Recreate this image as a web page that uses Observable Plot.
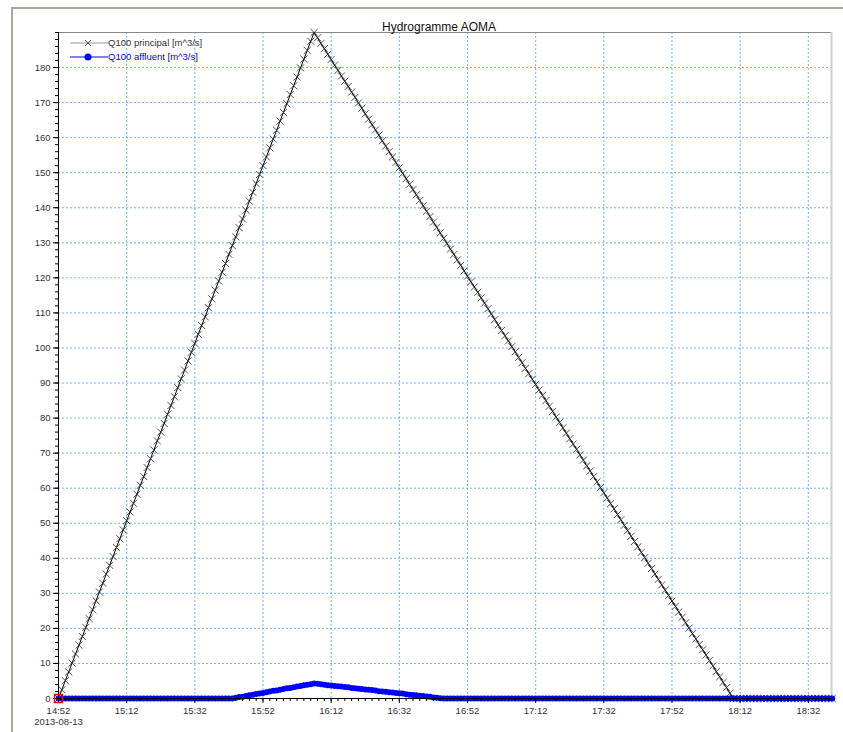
<!DOCTYPE html>
<html>
<head>
<meta charset="utf-8">
<script src="https://cdn.jsdelivr.net/npm/d3@7"></script>
<script src="https://cdn.jsdelivr.net/npm/@observablehq/plot@0.6"></script>
<style>
  body { margin: 0; background: #fff; font-family: "Liberation Sans", Arial, sans-serif; }
  #wrap { position: relative; width: 843px; height: 732px; overflow: hidden; }
  #win { position: absolute; left: 11px; top: 7px; width: 900px; height: 800px;
         border-top: 2px solid #aca899; border-left: 2px solid #aca899; pointer-events: none; }
</style>
</head>
<body>
<div id="wrap"><div id="chart"></div><div id="win"></div></div>
<script>
// ---------------- data ----------------
const title = "Hydrogramme AOMA";
const dateLabel = "2013-08-13";
const startTime = "2013-08-13 14:52";
const stepMinutes = 1;
const endTime = "2013-08-13 18:38:48";
const seriesNames = ["Q100 principal [m^3/s]", "Q100 affluent [m^3/s]"];

const principal = [
  0, 2.5, 5.1, 7.6, 10.1, 12.7, 15.2, 17.7, 20.3, 22.8,
  25.3, 27.9, 30.4, 32.9, 35.5, 38.0, 40.5, 43.1, 45.6, 48.1,
  50.7, 53.2, 55.7, 58.3, 60.8, 63.3, 65.9, 68.4, 70.9, 73.5,
  76.0, 78.5, 81.1, 83.6, 86.1, 88.7, 91.2, 93.7, 96.3, 98.8,
  101.3, 103.9, 106.4, 108.9, 111.5, 114.0, 116.5, 119.1, 121.6, 124.1,
  126.7, 129.2, 131.7, 134.3, 136.8, 139.3, 141.9, 144.4, 146.9, 149.5,
  152.0, 154.5, 157.1, 159.6, 162.1, 164.7, 167.2, 169.7, 172.3, 174.8,
  177.3, 179.9, 182.4, 184.9, 187.5, 190.0,
  188.5, 186.9, 185.4, 183.8, 182.3, 180.7, 179.2, 177.6, 176.1, 174.6,
  173.0, 171.5, 169.9, 168.4, 166.8, 165.3, 163.7, 162.2, 160.7, 159.1,
  157.6, 156.0, 154.5, 152.9, 151.4, 149.8, 148.3, 146.7, 145.2, 143.7,
  142.1, 140.6, 139.0, 137.5, 135.9, 134.4, 132.8, 131.3, 129.8, 128.2,
  126.7, 125.1, 123.6, 122.0, 120.5, 118.9, 117.4, 115.9, 114.3, 112.8,
  111.2, 109.7, 108.1, 106.6, 105.0, 103.5, 102.0, 100.4, 98.9, 97.3,
  95.8, 94.2, 92.7, 91.1, 89.6, 88.0, 86.5, 85.0, 83.4, 81.9,
  80.3, 78.8, 77.2, 75.7, 74.1, 72.6, 71.1, 69.5, 68.0, 66.4,
  64.9, 63.3, 61.8, 60.2, 58.7, 57.2, 55.6, 54.1, 52.5, 51.0,
  49.4, 47.9, 46.3, 44.8, 43.3, 41.7, 40.2, 38.6, 37.1, 35.5,
  34.0, 32.4, 30.9, 29.4, 27.8, 26.3, 24.7, 23.2, 21.6, 20.1,
  18.5, 17.0, 15.4, 13.9, 12.4, 10.8, 9.3, 7.7, 6.2, 4.6,
  3.1, 1.5, 0,
  0, 0, 0, 0, 0, 0, 0, 0, 0, 0,
  0, 0, 0, 0, 0, 0, 0, 0, 0, 0,
  0, 0, 0, 0, 0, 0, 0, 0, 0
];

const affluent = [
  0, 0, 0, 0, 0, 0, 0, 0, 0, 0,
  0, 0, 0, 0, 0, 0, 0, 0, 0, 0,
  0, 0, 0, 0, 0, 0, 0, 0, 0, 0,
  0, 0, 0, 0, 0, 0, 0, 0, 0, 0,
  0, 0, 0, 0, 0, 0, 0, 0, 0, 0,
  0, 0,
  0.2, 0.4, 0.5, 0.7, 0.9, 1.1, 1.3, 1.4, 1.6, 1.8,
  2.0, 2.2, 2.3, 2.5, 2.7, 2.9, 3.0, 3.2, 3.4, 3.6,
  3.8, 3.9, 4.1, 4.3,
  4.2, 4.1, 3.9, 3.8, 3.7, 3.6, 3.5, 3.4, 3.3, 3.2,
  3.0, 2.9, 2.8, 2.7, 2.6, 2.5, 2.4, 2.3, 2.1, 2.0,
  1.9, 1.8, 1.7, 1.6, 1.5, 1.4, 1.2, 1.1, 1.0, 0.9,
  0.8, 0.7, 0.6, 0.5, 0.3, 0.2, 0.1, 0.0,
  0, 0, 0, 0, 0, 0, 0, 0, 0, 0,
  0, 0, 0, 0, 0, 0, 0, 0, 0, 0,
  0, 0, 0, 0, 0, 0, 0, 0, 0, 0,
  0, 0, 0, 0, 0, 0, 0, 0, 0, 0,
  0, 0, 0, 0, 0, 0, 0, 0, 0, 0,
  0, 0, 0, 0, 0, 0, 0, 0, 0, 0,
  0, 0, 0, 0, 0, 0, 0, 0, 0, 0,
  0, 0, 0, 0, 0, 0, 0, 0, 0, 0,
  0, 0, 0, 0, 0, 0, 0, 0, 0, 0,
  0, 0, 0, 0, 0, 0, 0, 0, 0, 0,
  0, 0, 0, 0, 0, 0, 0, 0, 0, 0,
  0, 0, 0, 0
];

const xTickLabels = ["14:52", "15:12", "15:32", "15:52", "16:12", "16:32",
                     "16:52", "17:12", "17:32", "17:52", "18:12", "18:32"];
const yTicks = [0, 10, 20, 30, 40, 50, 60, 70, 80, 90, 100, 110, 120, 130, 140, 150, 160, 170, 180];
const yMax = 190;

// ---------------- build ----------------
const parseMin = d3.timeParse("%Y-%m-%d %H:%M");
const parseSec = d3.timeParse("%Y-%m-%d %H:%M:%S");
const t0 = parseMin(startTime);
const tEnd = parseSec(endTime);
const day = startTime.slice(0, 10);
const xTicks = xTickLabels.map(s => parseMin(day + " " + s));
const xMinor = d3.timeMinute.range(t0, tEnd, 2);
const yMinor = d3.range(0, yMax + 1, 2);
const fmt = d3.timeFormat("%H:%M");

const rows = principal.map((p, i) => ({
  t: d3.timeMinute.offset(t0, i * stepMinutes),
  p,
  a: affluent[i]
}));

const gridColor = "#3d9bff";
const textColor = "#333";

const plot = Plot.plot({
  width: 843,
  height: 732,
  marginLeft: 58,
  marginRight: 12,
  marginTop: 32,
  marginBottom: 34,
  style: { fontFamily: "Liberation Sans, Arial, sans-serif", fontSize: "9.5px", color: textColor, background: "transparent" },
  x: { type: "time", domain: [t0, tEnd] },
  y: { domain: [0, yMax] },
  marks: [
    Plot.gridX(xTicks, { stroke: gridColor, strokeOpacity: 0.75, strokeDasharray: "2,2", strokeWidth: 1 }),
    Plot.gridY(yTicks, { stroke: gridColor, strokeOpacity: 0.75, strokeDasharray: "2,2", strokeWidth: 1 }),
    Plot.ruleY([yMax], { stroke: "#888" }),
    Plot.ruleX([tEnd], { stroke: "#cfcfcf", strokeWidth: 2 }),
    Plot.lineY(rows, { x: "t", y: "p", stroke: "#000", strokeWidth: 1 }),
    Plot.dot(rows, { x: "t", y: "p", symbol: "times", r: 3.3, stroke: "#222", strokeWidth: 0.8 }),
    Plot.lineY(rows, { x: "t", y: "a", stroke: "#0000ff", strokeWidth: 1 }),
    Plot.dot(rows, { x: "t", y: "a", r: 3, fill: "#0000ff", stroke: "none" }),
    Plot.axisX(xMinor, { tickSize: 3, tickFormat: () => "", label: null, stroke: "#000" }),
    Plot.axisX(xTicks, { tickSize: 5, tickPadding: 4, tickFormat: fmt, label: null, stroke: "#000", fill: textColor }),
    Plot.axisY(yMinor, { tickSize: 3, tickFormat: () => "", label: null, stroke: "#000" }),
    Plot.axisY(yTicks, { tickSize: 5, tickPadding: 3, label: null, stroke: "#000", fill: textColor }),
    Plot.ruleX([t0], { stroke: "#000" }),
    Plot.ruleY([0], { stroke: "#000" }),
    Plot.dot(rows.slice(0, 1), { x: "t", y: "p", symbol: "square", r: 4.5, stroke: "#ff0000", fill: "none", strokeWidth: 1.5 }),
    Plot.text([{ t: t0, s: dateLabel }], { x: "t", text: "s", frameAnchor: "bottom", dy: 26, fill: textColor }),
    Plot.text([title], { frameAnchor: "top", dy: -10, dx: -6, fontSize: 12, fill: "#111" })
  ]
});

// legend (top-left, inside plot frame)
const svg = d3.select(plot);
const lg = svg.append("g")
  .attr("font-size", "9.5px")
  .attr("font-family", "Liberation Sans, Arial, sans-serif")
  .attr("text-anchor", "start");
const legendItems = [
  { name: seriesNames[0], line: "#999", text: textColor, marker: "times", mcolor: "#444" },
  { name: seriesNames[1], line: "#0000ff", text: "#0000ff", marker: "circle", mcolor: "#0000ff" }
];
legendItems.forEach((it, i) => {
  const y = 43 + i * 14;
  lg.append("line").attr("x1", 70).attr("x2", 108).attr("y1", y).attr("y2", y).attr("stroke", it.line);
  if (it.marker === "times") {
    lg.append("path").attr("d", `M${85},${y - 3}L${91},${y + 3}M${85},${y + 3}L${91},${y - 3}`)
      .attr("stroke", it.mcolor).attr("stroke-width", 0.9).attr("fill", "none");
  } else {
    lg.append("circle").attr("cx", 88).attr("cy", y).attr("r", 3.5).attr("fill", it.mcolor);
  }
  lg.append("text").attr("x", 108).attr("y", y).attr("dy", "0.35em")
    .attr("text-anchor", "start").attr("fill", it.text).text(it.name);
});

document.getElementById("chart").appendChild(plot);
</script>
</body>
</html>
